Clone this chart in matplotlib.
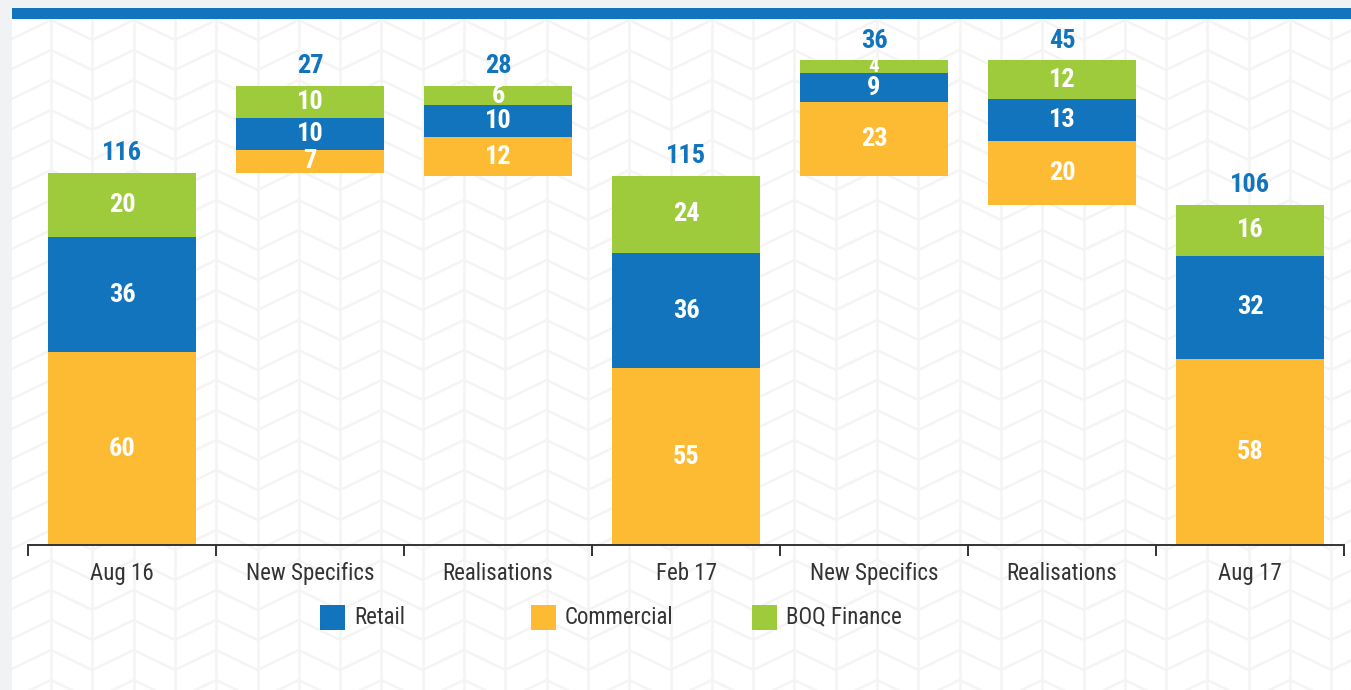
import numpy as np
import matplotlib
matplotlib.use("Agg")
import matplotlib.pyplot as plt
from matplotlib.patches import Rectangle

plt.rcParams['font.family'] = ['Roboto Condensed', 'DejaVu Sans']

# data
categories = ['Aug 16', 'New Specifics', 'Realisations', 'Feb 17',
              'New Specifics', 'Realisations', 'Aug 17']
kind = ['total', 'add', 'sub', 'total', 'add', 'sub', 'total']
commercial = [60, 7, 12, 55, 23, 20, 58]
retail = [36, 10, 10, 36, 9, 13, 32]
boq = [20, 10, 6, 24, 4, 12, 16]
totals = [116, 27, 28, 115, 36, 45, 106]

c_retail = '#1174bc'
c_comm = '#fdbb33'
c_boq = '#9dcb3b'

W, H = 1351, 690
fig = plt.figure(figsize=(W / 100, H / 100), dpi=100)
fig.patch.set_facecolor('#f1f2f4')

# background panel with chevron pattern (pixel coords)
bg = fig.add_axes([0, 0, 1, 1], zorder=0)
bg.set_xlim(0, W)
bg.set_ylim(H, 0)
bg.axis('off')
bg.add_patch(Rectangle((12, 8), W - 12, H - 8, color='white', lw=0))
pat = '#f4f4f4'
xs = np.arange(51 - 41.3, W + 41.3, 41.3)
for x in xs:
    if x > 12:
        bg.plot([x, x], [19, H], color=pat, lw=1.8, zorder=1)
for y0 in np.arange(20, H + 40, 30):
    zy = [y0 + (20 if i % 2 == 0 else 0) for i in range(len(xs))]
    bg.plot(xs, zy, color=pat, lw=1.8, zorder=1)
bg.add_patch(Rectangle((0, 0), 12, H, color='#f1f2f4', lw=0, zorder=2))
bg.add_patch(Rectangle((12, 8), W - 12, 11, color=c_retail, lw=0, zorder=3))

# main chart
ax = fig.add_axes([28 / W, (H - 545) / H, (1344 - 28) / W, (545 - 25) / H], zorder=1)
ax.patch.set_alpha(0)
ax.set_xlim(-0.5, len(categories) - 0.5)
ax.set_ylim(0, 162)

# waterfall bases
base = []
level = 0
for k, t in zip(kind, totals):
    if k == 'total':
        base.append(0)
        level = t
    elif k == 'add':
        base.append(level)
        level += t
    else:
        level -= t
        base.append(level)
base = np.array(base)

x = np.arange(len(categories))
bw = 0.787
comm = np.array(commercial)
ret = np.array(retail)
bq = np.array(boq)
ax.bar(x, comm, bw, bottom=base, color=c_comm, lw=0)
ax.bar(x, ret, bw, bottom=base + comm, color=c_retail, lw=0)
ax.bar(x, bq, bw, bottom=base + comm + ret, color=c_boq, lw=0)

for i in range(len(x)):
    b = base[i]
    for v, bot in [(comm[i], b), (ret[i], b + comm[i]), (bq[i], b + comm[i] + ret[i])]:
        fs = 19 if v >= 6 else 15
        ax.text(x[i], bot + v / 2, str(v), ha='center', va='center',
                color='white', fontsize=fs, fontweight='bold')
    ax.text(x[i], b + totals[i] + 2.4, str(totals[i]), ha='center', va='bottom',
            color=c_retail, fontsize=19, fontweight='bold')

for s in ['top', 'right', 'left']:
    ax.spines[s].set_visible(False)
ax.spines['bottom'].set_color('#333333')
ax.spines['bottom'].set_linewidth(1.4)
ax.set_yticks([])
ax.set_xticks(x)
ax.set_xticklabels(categories, fontsize=16.5, color='#333333')
ax.tick_params(axis='x', which='major', length=0, pad=12)
ax.set_xticks(np.arange(-0.5, len(categories)), minor=True)
ax.tick_params(axis='x', which='minor', length=8, width=1.4, color='#333333', direction='out')

# legend
items = [('Retail', c_retail, 320), ('Commercial', c_comm, 531), ('BOQ Finance', c_boq, 752)]
for lab, col, px in items:
    bg.add_patch(Rectangle((px, 605), 25, 25, color=col, lw=0, zorder=4))
    bg.text(px + 34, 617, lab, va='center', ha='left', fontsize=16.5, color='#333333', zorder=4)

fig.savefig('out.png', dpi=100, facecolor=fig.get_facecolor())
